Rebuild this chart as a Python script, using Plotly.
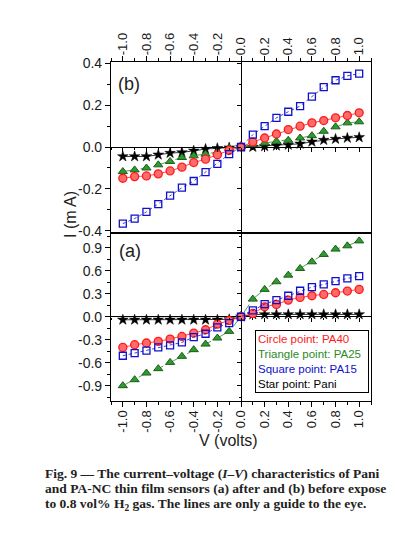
import plotly.graph_objects as go

# ---------------- data ----------------
V = [-1.0, -0.9, -0.8, -0.7, -0.6, -0.5, -0.4, -0.3, -0.2, -0.1, 0.0,
     0.1, 0.2, 0.3, 0.4, 0.5, 0.6, 0.7, 0.8, 0.9, 1.0]

# (b) before exposure
b_pa40 = [-0.149, -0.141, -0.138, -0.128, -0.114, -0.096, -0.074, -0.058, -0.037, -0.016, 0.0,
          0.024, 0.043, 0.062, 0.083, 0.099, 0.115, 0.126, 0.139, 0.150, 0.163]
b_pa25 = [-0.117, -0.109, -0.100, -0.085, -0.069, -0.050, -0.042, -0.034, -0.024, -0.006, 0.0,
          0.011, 0.019, 0.027, 0.032, 0.043, 0.054, 0.075, 0.096, 0.115, 0.120]
b_pa15 = [-0.365, -0.341, -0.309, -0.272, -0.232, -0.194, -0.162, -0.120, -0.080, -0.034, 0.0,
          0.059, 0.099, 0.139, 0.168, 0.195, 0.240, 0.285, 0.318, 0.339, 0.350]
b_pani = [-0.045, -0.045, -0.045, -0.037, -0.029, -0.026, -0.018, -0.010, -0.006, -0.003, 0.0,
          0.000, 0.003, 0.006, 0.010, 0.015, 0.025, 0.033, 0.038, 0.043, 0.046]

# (a) after exposure
a_pa40 = [-0.400, -0.365, -0.343, -0.322, -0.291, -0.257, -0.213, -0.170, -0.096, -0.050, 0.0,
          0.043, 0.130, 0.161, 0.217, 0.252, 0.274, 0.291, 0.313, 0.335, 0.357]
a_pa25 = [-0.900, -0.822, -0.735, -0.678, -0.596, -0.517, -0.430, -0.357, -0.278, -0.191, 0.0,
          0.230, 0.357, 0.457, 0.543, 0.630, 0.717, 0.813, 0.883, 0.926, 0.990]
a_pa15 = [-0.509, -0.474, -0.443, -0.400, -0.374, -0.335, -0.265, -0.222, -0.139, -0.083, 0.0,
          0.083, 0.165, 0.217, 0.274, 0.339, 0.387, 0.422, 0.465, 0.500, 0.530]
a_pani = [-0.040, -0.040, -0.040, -0.040, -0.040, -0.040, -0.040, -0.040, -0.040, -0.035, 0.0,
          0.030, 0.030, 0.030, 0.030, 0.030, 0.030, 0.030, 0.030, 0.030, 0.030]

x_ticks = [-1.0, -0.8, -0.6, -0.4, -0.2, 0.0, 0.2, 0.4, 0.6, 0.8, 1.0]
x_ticktext = ["-1.0", "-0.8", "-0.6", "-0.4", "-0.2", "0.0", "0.2", "0.4", "0.6", "0.8", "1.0"]
yb_ticks = [-0.4, -0.2, 0.0, 0.2, 0.4]
yb_ticktext = ["-0.4", "-0.2", "0.0", "0.2", "0.4"]
ya_ticks = [-0.9, -0.6, -0.3, 0.0, 0.3, 0.6, 0.9]
ya_ticktext = ["-0.9", "-0.6", "-0.3", "0.0", "0.3", "0.6", "0.9"]

legend_lines = ["Circle point: PA40", "Triangle point: PA25", "Square point: PA15", "Star point: Pani"]
caption_lines = [
    "Fig. 9 \u2014 The current\u2013voltage (<i>I</i>\u2013<i>V</i>) characteristics of Pani",
    "and PA-NC thin film sensors (a) after and (b) before expose",
    "to 0.8 vol% H<sub>2</sub> gas. The lines are only a guide to the eye.",
]

# ---------------- styles ----------------
RED, GREEN, BLUE, BLACK = "#ff1a1a", "#2a8a2a", "#1010cc", "#000000"
styles = {
    "pani": dict(symbol="star", size=8, color=BLACK, line=dict(color=BLACK, width=0.5)),
    "pa25": dict(symbol="triangle-up", size=8, color="#2f9a2f", line=dict(color="#1a5e1a", width=1)),
    "pa40": dict(symbol="circle", size=8, color="#ff6a6a", line=dict(color=RED, width=1.3)),
    "pa15": dict(symbol="square-open", size=7, color=BLUE, line=dict(color=BLUE, width=1.3)),
}
line_styles = {
    "pani": dict(color=BLACK, width=0.8),
    "pa25": dict(color=GREEN, width=0.8, dash="dash"),
    "pa40": dict(color=RED, width=0.8),
    "pa15": dict(color=BLUE, width=0.8, dash="dot"),
}

fig = go.Figure()
for key, yb, ya in [("pani", b_pani, a_pani), ("pa25", b_pa25, a_pa25),
                    ("pa40", b_pa40, a_pa40), ("pa15", b_pa15, a_pa15)]:
    fig.add_trace(go.Scatter(x=V, y=yb, mode="lines+markers", marker=styles[key],
                             line=line_styles[key], xaxis="x", yaxis="y", showlegend=False))
    fig.add_trace(go.Scatter(x=V, y=ya, mode="lines+markers", marker=styles[key],
                             line=line_styles[key], xaxis="x2", yaxis="y2", showlegend=False))

# dummy traces to activate zero-line tick axes
fig.add_trace(go.Scatter(x=[None], y=[None], xaxis="x3", yaxis="y3", showlegend=False, hoverinfo="skip"))
fig.add_trace(go.Scatter(x=[None], y=[None], xaxis="x4", yaxis="y4", showlegend=False, hoverinfo="skip"))

# page body has an 8px margin -> figure is offset by (8, 8)
OFF = 8
W, H = 395 - OFF, 547 - OFF


def xp(px):
    return (px - OFF) / W


def yp(py):
    return 1 - (py - OFF) / H


X_DOM = [xp(111), xp(371)]
TOP_DOM = [yp(232), yp(62)]
BOT_DOM = [yp(401), yp(234)]
XR = [-1.1, 1.1]
YBR = [-0.405, 0.405]
YAR = [-1.1, 1.08]


def zero_pos(dom, rng):
    return dom[0] + (0 - rng[0]) / (rng[1] - rng[0]) * (dom[1] - dom[0])


TICKFONT = dict(family="Liberation Sans, Arial", size=14, color="#1a1a1a")
common = dict(showgrid=False, showline=True, linecolor="black", linewidth=1.2,
              ticks="outside", tickcolor="black", ticklen=5, tickwidth=1,
              tickfont=TICKFONT, automargin=False)

xcommon = dict(common, range=XR, tickmode="array", tickvals=x_ticks, ticktext=x_ticktext,
               tickangle=-90, mirror=True, zeroline=True, zerolinecolor="black", zerolinewidth=1.2,
               tickfont=dict(TICKFONT, size=13), ticklabelstandoff=-2,
               minor=dict(ticks="outside", ticklen=3, tickcolor="black", dtick=0.1, tick0=0))

zcommon = dict(showticklabels=False, ticks="outside", ticklen=4, tickcolor="black",
               showline=False, showgrid=False, zeroline=False, automargin=False, tickmode="array")

fig.update_layout(
    width=W, height=H,
    margin=dict(l=0, r=0, t=0, b=0, autoexpand=False),
    paper_bgcolor="white", plot_bgcolor="white",
    xaxis=dict(xcommon, domain=X_DOM, anchor="y", side="top"),
    xaxis2=dict(xcommon, domain=X_DOM, anchor="y2", side="bottom"),
    yaxis=dict(common, domain=TOP_DOM, anchor="x", range=YBR, tickmode="array",
               tickvals=yb_ticks, ticktext=yb_ticktext, mirror=True,
               zeroline=True, zerolinecolor="black", zerolinewidth=1.2,
               minor=dict(ticks="outside", ticklen=3, tickcolor="black", dtick=0.1, tick0=0)),
    yaxis2=dict(common, domain=BOT_DOM, anchor="x2", range=YAR, tickmode="array",
                tickvals=ya_ticks, ticktext=ya_ticktext, mirror=True,
                zeroline=True, zerolinecolor="black", zerolinewidth=1.2,
                minor=dict(ticks="outside", ticklen=3, tickcolor="black", dtick=0.15, tick0=0)),
    xaxis3=dict(zcommon, overlaying="x", anchor="free", position=zero_pos(TOP_DOM, YBR),
                side="bottom", range=XR, tickvals=x_ticks,
                minor=dict(ticks="outside", ticklen=2, tickcolor="black", dtick=0.1, tick0=0)),
    yaxis3=dict(zcommon, overlaying="y", anchor="free", position=zero_pos(X_DOM, XR),
                side="left", range=YBR, tickvals=yb_ticks,
                minor=dict(ticks="outside", ticklen=2, tickcolor="black", dtick=0.1, tick0=0)),
    xaxis4=dict(zcommon, overlaying="x2", anchor="free", position=zero_pos(BOT_DOM, YAR),
                side="bottom", range=XR, tickvals=x_ticks,
                minor=dict(ticks="outside", ticklen=2, tickcolor="black", dtick=0.1, tick0=0)),
    yaxis4=dict(zcommon, overlaying="y2", anchor="free", position=zero_pos(X_DOM, XR),
                side="left", range=YAR, tickvals=ya_ticks,
                minor=dict(ticks="outside", ticklen=2, tickcolor="black", dtick=0.15, tick0=0)),
)

SANS = "Liberation Sans, Arial"
legend_colors = [RED, GREEN, BLUE, BLACK]
legend_text = "<br>".join(f'<span style="color:{c}">{t}</span>' for t, c in zip(legend_lines, legend_colors))

center = dict(xref="paper", yref="paper", showarrow=False, xanchor="center", yanchor="middle")
annotations = [
    dict(center, text="(b)", x=xp(129), y=yp(84), font=dict(family=SANS, size=18, color="#222")),
    dict(center, text="(a)", x=xp(130), y=yp(251), font=dict(family=SANS, size=18, color="#222")),
    dict(center, text="I (m A)", x=xp(70), y=yp(214), textangle=-90,
         font=dict(family=SANS, size=16, color="#222")),
    dict(center, text="V (volts)", x=xp(228), y=yp(440),
         font=dict(family=SANS, size=16, color="#222")),
    dict(text=legend_text, x=xp(255), y=yp(330), xref="paper", yref="paper",
         xanchor="left", yanchor="top", showarrow=False, align="left",
         width=108, height=57, valign="middle",
         bordercolor="black", borderwidth=1, borderpad=2, bgcolor="white",
         font=dict(family=SANS, size=11.5)),
]
for i, line in enumerate(caption_lines):
    annotations.append(dict(
        text=line, x=xp(43), y=yp(473 + 15.5 * i), xref="paper", yref="paper",
        xanchor="left", yanchor="middle", showarrow=False, align="left",
        font=dict(family="Liberation Serif, Times New Roman", size=13.5, color="#222",
                  weight="bold")))
fig.update_layout(annotations=annotations)

fig.write_html("out.html")
